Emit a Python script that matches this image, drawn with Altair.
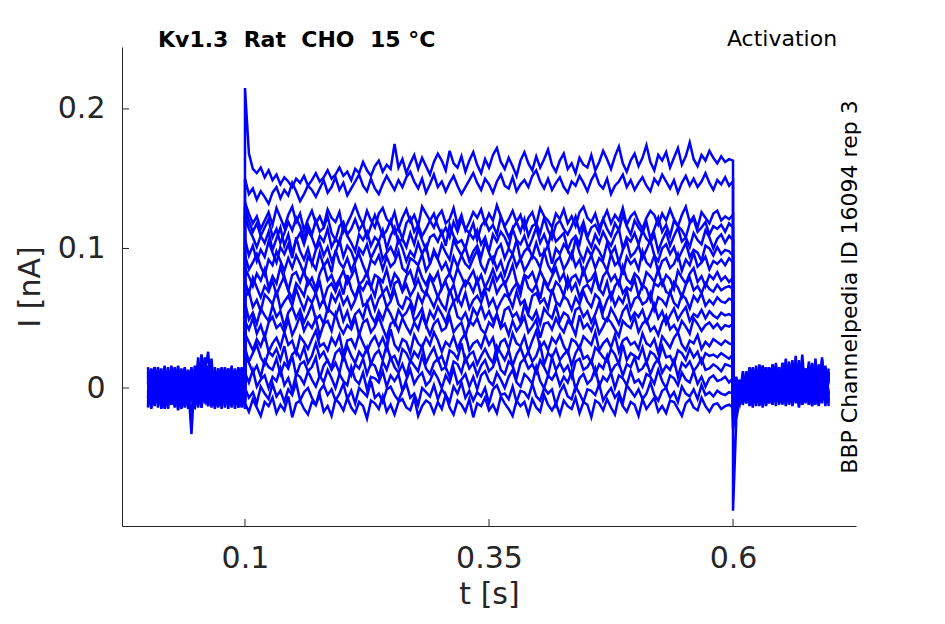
import altair as alt
import numpy as np
import pandas as pd

# ---- values in thousandths of nA ----
# steady current level of each trace during the 0.1-0.6 s step
STEP_LEVEL = [160, 145, 121, 114, 106, 97, 89, 78, 71, 62, 52, 44, 32, 23, 15, 6, -4, -13]

# deviation of each trace from its level during the step
STEP_DEV = [
    [55,8,-3,-6,-2,-9,-4,-11,-7,-14,-9,-12,-16,-10,-13,-8,-15,-11,-6,-12,-9,-4,-10,-7,-2,-8,-5,-11,-3,-6,2,-4,-8,-1,3,-5,0,-3,15,-2,4,-6,1,7,-3,5,-1,-7,2,8,3,-4,10,1,-2,6,-5,3,9,0,-6,4,-2,7,12,2,-3,5,-1,-8,3,9,1,-4,6,-2,4,11,0,-5,3,8,-3,1,-6,5,0,-2,7,-4,2,10,4,-3,6,13,1,-5,3,8,-1,5,14,2,-4,7,3,9,-2,5,12,0,6,16,4,-1,7,3,10,5,1,6,2,4,3],
    [5,-6,-2,-10,-4,-8,-13,-5,-1,-9,-3,-7,2,-4,-11,-6,0,-3,-8,-2,4,-5,-1,6,-3,2,-7,-2,3,8,0,-4,5,-2,-6,1,7,2,-3,4,-1,6,10,3,-2,5,-5,1,8,-1,3,-4,2,7,0,-6,-1,4,9,2,-3,5,1,-5,3,8,0,-2,6,-4,1,4,-1,7,11,3,-2,5,-3,2,6,-1,-5,3,0,7,2,-4,4,9,1,-2,5,-6,0,3,8,-1,4,-3,2,6,0,-4,5,1,8,3,-2,4,-5,2,7,0,5,-1,3,9,2,-3,4,1,6,0,3],
    [12,4,-3,2,-7,-1,5,-4,8,1,-6,3,9,-2,4,-8,0,6,-3,2,-5,7,1,-2,5,-9,-3,3,10,2,-4,6,-1,-6,4,8,0,-3,5,-7,1,7,-2,3,-5,9,4,-1,-6,2,6,-3,0,8,-4,3,-8,-2,5,1,7,-3,4,-1,10,2,-5,0,6,-2,3,-7,1,5,-4,8,2,-1,-6,4,0,7,-3,2,-5,5,9,1,-2,4,-6,0,6,-3,3,-1,8,-4,2,5,-2,-7,1,6,3,-4,4,-1,7,0,-5,3,9,-2,2,-6,5,1,-3,4,6,-1,2,0,3],
    [15,6,-2,4,-5,1,7,-6,0,-10,-3,5,-1,8,2,-7,3,-4,6,-2,1,9,-3,-8,2,5,-4,0,7,-1,4,-6,2,10,3,-5,-1,6,-3,1,-7,4,8,-2,3,-5,0,6,11,2,-4,1,-6,5,-2,7,0,-3,4,-8,2,6,-1,3,-4,9,1,-6,0,5,-2,7,-5,2,4,-3,8,-1,-7,3,6,0,-4,2,9,-2,5,-6,1,3,-3,7,0,-5,4,-1,10,2,-4,6,1,-3,5,-7,0,8,-2,3,-5,6,2,-1,-6,4,7,-2,1,5,-4,2,0,3,-2,4,1],
    [18,8,2,-5,3,-2,6,-7,1,9,-4,4,-9,0,5,-3,7,2,-6,3,-1,8,-5,1,-3,10,3,-2,-8,4,0,6,-4,2,-1,7,-6,3,9,-2,1,-5,5,-3,8,0,-7,2,4,-1,6,-4,11,3,-2,0,-6,5,1,7,-3,2,-8,4,-1,6,2,-5,8,0,-3,3,-6,1,9,-2,4,-4,7,-1,2,5,-7,0,3,-3,10,1,-5,4,-2,6,0,-4,3,8,-6,2,-1,5,-3,7,1,-2,4,-8,0,6,-4,3,9,-1,2,-5,5,0,-3,7,2,-6,1,4,-2,3,0],
    [10,-2,5,-6,2,-3,8,0,-7,4,-1,6,-4,11,1,-5,3,-8,2,7,-2,4,-6,0,9,-3,5,1,-7,3,-1,6,-4,2,8,-5,0,4,-2,10,3,-6,1,-3,7,-1,5,-8,2,-4,6,0,-5,9,3,-2,4,-6,1,5,-3,8,0,-7,2,6,-4,3,-1,9,-5,1,4,-3,7,-2,0,5,-8,3,-1,6,2,-4,10,0,-6,3,-2,5,1,-5,7,-1,4,-7,2,8,-3,0,5,-4,2,9,-2,-6,3,6,-1,4,-5,1,7,-3,2,0,-6,5,3,-2,4,-1,2,1,-2],
    [6,-4,1,7,-2,-8,3,-1,9,2,-5,4,-3,6,0,-7,5,1,-4,8,-2,3,-6,10,1,-3,4,-5,2,7,-1,-8,3,0,6,-4,5,-2,1,9,-3,-6,4,2,-1,7,-5,0,8,3,-4,1,-7,5,-2,6,0,-3,4,10,-1,-6,3,5,-4,2,-8,1,7,-2,4,-5,0,6,3,-3,9,-1,-6,2,5,-4,1,8,-2,3,-7,0,6,-3,4,1,-5,7,-1,2,-8,5,0,3,-4,9,1,-2,6,-6,2,4,-3,0,7,-5,3,-1,8,-2,1,5,-4,2,0,3,-1,4,1],
    [8,2,-5,4,-1,7,-6,2,-3,9,0,-8,3,5,-2,6,-4,1,-7,4,10,-1,3,-5,0,6,-3,2,8,-4,-1,5,-6,3,1,-2,7,-5,4,0,-8,2,6,-3,9,1,-4,3,-1,5,-7,0,4,-2,8,2,-5,1,6,-3,3,-6,0,7,-1,4,-4,2,10,-2,-7,3,1,5,-3,6,0,-5,2,8,-1,4,-6,1,3,-3,7,-2,0,5,-8,2,6,-1,3,-4,9,0,-3,4,1,-6,5,2,-2,7,-4,3,0,-7,6,1,-3,4,8,-2,2,-5,3,0,5,-1,2,-2,1],
    [5,-3,8,1,-6,2,-2,6,-4,3,9,-1,-7,4,0,-5,7,2,-3,5,-8,1,4,-2,6,-4,10,0,-6,3,-1,5,2,-5,8,-3,1,-7,4,6,-2,3,-5,0,7,-1,-4,9,2,-6,1,5,-3,3,-8,0,6,4,-2,7,-5,1,-1,8,-3,2,5,-6,0,4,-4,10,1,-2,3,-7,6,0,-3,5,2,-5,8,-1,4,-6,1,3,-2,9,0,-4,5,-7,2,6,-3,1,-1,7,-5,3,0,-8,4,2,6,-2,-4,5,1,-6,3,8,-1,2,-3,4,0,-2,3,-1,1,2,0],
    [3,7,-4,1,-7,5,2,-2,8,-5,0,4,-3,9,1,-6,3,-1,6,-4,2,-8,5,0,7,-2,3,-5,1,10,-3,-1,4,-6,2,6,-4,0,8,-2,-5,3,1,-7,5,-1,7,2,-4,4,-2,-6,9,0,3,-3,6,-5,1,4,-1,8,-3,2,-6,0,5,3,-4,7,-2,1,-8,4,6,-1,2,-5,9,0,-3,4,1,-6,3,-2,7,0,-4,5,2,-7,1,6,-3,3,-1,8,-5,2,4,-2,0,6,-6,3,1,-3,7,-1,-4,5,2,-5,4,0,6,-3,1,-2,3,0,-1,2,1],
    [9,-3,2,-6,5,0,-4,7,-1,3,-8,2,6,-2,4,-5,1,8,-3,0,-6,5,2,-1,7,-4,3,-7,1,4,-2,9,0,-5,3,-3,6,1,-6,4,-1,2,8,-4,0,5,-7,3,-2,6,1,-5,4,10,-1,-3,2,-6,5,0,7,-2,3,-4,1,-8,4,6,-1,2,-5,8,0,-3,3,-6,5,1,-2,7,-4,2,0,-7,4,6,-1,3,-5,1,9,-2,-4,5,0,-6,3,7,-3,2,-1,4,-5,1,8,-2,3,-6,0,5,-3,2,6,-4,1,-1,4,-2,3,0,-2,2,0,1,-1],
    [4,-2,6,-5,1,-8,3,7,-1,2,-4,5,-6,0,8,-3,3,-1,6,-7,2,4,-3,9,0,-5,1,-2,6,-6,3,5,-4,0,7,-1,-8,2,4,-3,6,0,-5,3,-2,8,1,-6,2,5,-3,-1,7,-4,0,3,-7,4,1,6,-2,-5,3,0,9,-1,2,-6,4,-3,1,7,-4,0,5,-8,2,3,-2,6,0,-4,4,1,-6,8,-1,2,-3,5,-5,0,6,3,-2,-7,4,1,-1,7,-4,2,5,-3,0,-6,3,8,-2,1,-4,4,0,-5,6,2,-3,1,3,-1,2,-2,1,0,2],
    [7,1,-5,3,-2,6,-6,0,4,-3,8,-1,2,-7,5,1,-4,3,9,-2,0,-5,4,-1,6,-8,2,3,-3,7,0,-6,1,5,-2,4,-4,10,-1,-5,3,1,-7,6,0,-3,4,-1,8,2,-6,1,-2,5,-4,3,7,-5,0,2,-3,6,-1,4,-8,1,3,-4,7,0,-2,5,-6,2,9,-3,1,-5,4,0,6,-2,-7,3,1,-4,5,2,-1,8,-5,0,3,-3,6,-6,2,4,-1,1,-4,7,0,-2,3,-7,5,1,-3,4,8,-1,-5,2,0,6,-4,1,-2,3,1,-1,2,0,-1],
    [6,-4,2,8,-1,-6,3,0,5,-3,7,-7,1,4,-2,6,-5,0,9,-1,3,-4,-8,2,5,-2,7,0,-5,3,-1,6,-6,1,4,-3,8,-2,0,-7,5,2,-4,3,-1,7,-5,1,6,-3,0,-8,4,2,-2,9,-4,1,3,-6,0,5,-1,-5,7,2,-3,4,-7,1,6,-2,3,-4,0,8,-6,2,-1,5,-3,1,4,-7,2,7,-2,0,-5,6,3,-1,-4,5,1,-6,8,-3,2,0,-2,6,-5,3,1,-4,7,-1,0,-6,4,2,-3,5,-1,3,-5,2,0,1,-1,2,0,-2,1],
    [8,3,-4,1,-7,5,0,-2,6,-5,3,-1,8,-6,2,4,-3,0,7,-8,1,5,-2,3,-4,9,0,-6,2,-1,6,-5,3,1,-7,4,-2,7,0,-4,2,-6,5,1,-3,8,-1,-5,3,6,-2,0,-7,4,2,-4,7,-1,3,-6,1,5,-3,0,8,-2,-5,4,1,-8,3,6,-1,2,-4,5,0,-6,7,-2,3,-3,1,-7,4,6,-2,0,5,-5,2,-1,8,-4,1,3,-6,2,0,7,-3,-1,4,-5,2,6,-4,1,-2,5,-7,3,0,4,-3,1,6,-2,-1,2,0,-3,2,1,0],
    [5,-2,7,-5,0,3,-6,2,-1,8,-4,1,-8,4,2,-3,6,0,-5,3,-2,7,1,-6,4,-1,-4,9,0,-3,5,-7,2,1,-2,6,-5,3,-1,4,-8,0,7,-3,2,5,-4,-1,6,1,-6,3,-2,8,-3,0,4,-5,2,-7,3,6,-1,-4,5,0,-6,2,7,-2,-5,4,1,-3,9,-1,-6,3,0,5,-4,2,-2,6,-7,1,4,-3,0,8,-5,2,-1,5,-6,3,1,-4,6,-2,0,-5,4,2,-3,7,-1,-6,3,1,-4,5,0,-2,6,-3,2,-5,1,3,-1,0,2,-2,1],
    [4,-3,1,-7,5,0,-4,7,-2,2,-6,3,-1,8,-5,1,4,-3,-8,2,6,-1,3,-5,0,7,-4,2,-7,4,1,-2,9,-3,0,-6,3,5,-1,-5,2,7,-3,0,-8,4,1,-2,6,-4,3,-1,-6,5,0,8,-3,2,-5,1,-2,4,-7,3,6,-1,0,-4,5,-6,2,1,-3,7,-2,-5,4,0,3,-8,1,6,-2,-4,5,0,-6,3,2,-1,7,-5,0,4,-3,1,-7,6,2,-2,3,-4,0,8,-1,-5,2,4,-3,1,-6,5,0,-2,3,-4,6,-1,1,-2,2,0,-1,1,0],
    [2,-4,5,-1,-7,3,0,6,-5,1,-3,7,-8,2,4,-2,-6,3,1,8,-4,0,-7,5,2,-3,6,-1,-5,3,0,-9,4,2,-2,7,-4,1,-6,3,5,-1,-3,6,-7,0,4,2,-5,3,-2,8,-1,-6,4,1,-4,5,-8,2,0,6,-3,1,-5,7,2,-2,-7,4,0,3,-6,5,-1,-4,8,1,-3,2,-6,4,0,-2,6,-5,3,1,-8,4,2,-3,5,-1,-6,7,0,-4,3,1,-7,5,-2,2,6,-4,0,-5,4,3,-2,-7,2,5,-1,-3,6,0,-4,1,2,-2,0,1,-1],
]

# holding current before the step (0-0.1 s)
BASE = [
    [5,-12,14,-8,11,-15,9,-4,13,-10,6,-13,12,3,-7,22,-9,15,-6,10,-14,8,-11,13,-5,9,-12,14,-8,4],
    [-10,13,-6,15,-11,4,-14,12,-3,16,-9,11,-15,-2,10,-8,24,-4,12,-13,7,-10,15,-6,11,-14,9,-3,13,-9],
    [12,-7,9,-14,6,-10,15,-5,11,-12,14,-8,3,-33,8,-12,11,19,-7,13,-9,14,-12,6,-15,10,-5,12,-11,7],
    [-14,8,-11,13,-4,16,-9,7,-13,10,-6,14,-11,5,-9,13,-6,12,26,-8,11,-13,4,-9,14,-7,12,-14,8,-10],
    [9,-15,12,-3,14,-8,10,-12,5,-16,12,-4,10,-8,-13,9,-10,14,-5,21,-11,9,-6,13,-10,15,-8,5,-13,11],
    [-6,11,-13,7,-9,14,-2,-12,15,-7,9,-14,13,2,-11,14,-3,20,-13,6,-8,13,-15,10,-4,8,-12,14,-6,9],
    [15,-4,-10,12,-13,9,-6,13,-9,4,-14,10,-7,-18,6,-10,24,-8,7,-14,10,-3,12,-9,14,-13,6,-8,15,-11],
    [-12,7,15,-9,4,-13,11,-7,14,-2,-15,8,-10,6,-4,12,-14,9,-2,13,-10,5,-12,11,-8,12,-5,-14,10,-3],
    [7,-9,13,-5,10,-14,3,12,-8,15,-11,6,-9,4,-12,18,-6,-10,15,-4,11,-9,14,-11,4,-13,12,-6,9,-15],
    [-3,14,-7,9,-15,6,-9,14,-11,8,-5,-13,11,-7,16,-12,5,-7,14,-11,3,-14,12,-5,10,-8,14,-2,-12,7],
    [11,-13,5,12,-6,15,-10,7,-12,13,-3,10,-14,6,-8,11,-3,21,-9,6,-13,14,-7,9,-12,3,-9,15,-5,12],
    [-8,3,-12,10,-14,8,-5,16,-10,2,-8,15,-12,-1,11,-9,13,-5,-13,12,-7,11,-2,14,-9,7,-15,10,-4,14],
    [14,-6,9,-11,3,-9,12,-4,10,-13,7,-6,13,-9,4,-14,10,-8,16,-6,-12,7,-10,15,-3,12,-10,6,-13,5],
    [-4,12,-9,5,-12,13,-7,10,-14,9,-2,14,-10,8,-15,6,-11,22,-5,10,-15,4,-7,13,-9,16,-6,-11,13,-8],
    [4,-14,8,-6,11,-3,-11,15,-6,12,-10,5,-13,2,-10,15,-5,9,-10,14,-2,-9,11,-14,8,-6,13,-12,5,-9],
    [-13,9,-5,14,-3,10,-15,7,12,-8,-12,13,-4,7,-6,10,-12,4,10,-9,15,-5,8,-13,11,-4,9,-10,14,-2],
    [8,-4,15,-10,6,-12,5,-8,14,-15,9,-7,12,-6,-11,7,-14,13,-8,16,-4,-13,10,-6,13,-11,5,-8,11,-14],
    [-7,13,-3,9,-14,5,11,-9,-5,10,-13,3,-10,15,-7,16,-14,6,-9,11,-6,12,-12,6,-3,14,-10,8,-14,6],
]

# current after the step (0.6-0.7 s)
TAIL = [
    [-5,3,-9,8,-2,14,-7,11,-10,16,-4,9,-12,13,-3,18,-8,10,-11,15,-6,12,-9,19,-2,8,-13,14,-5,10],
    [-12,-3,6,-11,12,-6,15,-9,7,-13,11,-2,17,-8,9,-12,14,-4,10,-10,16,-7,13,-12,8,-3,15,-9,11,-6],
    [-20,-9,2,-6,10,-12,8,-4,17,-9,13,-11,5,-7,15,-10,12,-3,20,-8,6,-12,14,-5,11,-9,17,-4,9,-11],
    [-8,4,-12,6,-5,13,-3,16,-10,9,-6,14,-12,11,-2,18,-9,7,-13,12,-4,15,-8,10,-11,21,-6,13,-10,7],
    [-25,-14,-2,-9,5,-6,14,-11,10,-3,15,-8,12,-13,7,-5,16,-10,11,-7,14,-12,9,-2,17,-9,6,-11,13,-4],
    [-3,6,-8,2,-11,12,-5,9,-13,16,-7,11,-4,13,-10,8,-2,19,-9,12,-13,7,-6,15,-11,10,-3,22,-8,12],
    [-15,-5,4,-10,8,-2,11,-12,14,-6,9,-9,17,-4,12,-11,7,-3,15,-8,13,-12,10,-5,18,-10,8,-6,14,-9],
    [-30,-8,-3,-12,6,-7,13,-4,10,-14,15,-6,8,-10,12,-2,16,-11,9,-7,20,-5,11,-12,7,-9,14,-4,10,-13],
    [-10,1,-7,9,-4,15,-9,6,-12,13,-3,10,-8,18,-11,7,-5,14,-10,11,-2,16,-7,9,-13,12,-6,15,-9,8],
    [-88,-22,-9,3,-6,11,-10,8,-3,14,-12,9,-5,16,-8,12,-13,6,-4,23,-9,10,-11,15,-6,8,-10,13,-3,11],
    [-6,5,-11,3,-4,14,-8,10,-2,12,-13,8,-6,15,-9,11,-3,17,-12,7,-5,13,-10,16,-7,9,-12,11,-4,14],
    [-22,-11,-1,-8,7,-13,10,-5,16,-9,4,-11,12,-6,9,-3,15,-12,8,-7,18,-10,6,-4,13,-11,10,-8,16,-5],
    [-2,8,-5,12,-9,4,-14,9,-7,15,-3,10,-11,13,-6,17,-9,5,-12,11,-3,24,-7,9,-10,14,-5,12,-13,8],
    [-18,-7,-12,2,-9,11,-4,13,-10,6,-2,15,-8,9,-12,14,-5,11,-9,7,-14,12,-3,17,-8,10,-11,13,-6,9],
    [-9,2,-6,10,-11,7,-3,14,-8,11,-12,5,-4,16,-10,9,-7,13,-2,18,-11,6,-9,12,-5,15,-12,8,-3,11],
    [-28,-16,-5,-10,4,-8,12,-13,9,-4,15,-7,11,-10,6,-2,21,-8,13,-11,10,-5,14,-9,8,-12,16,-6,10,-8],
    [-4,7,-9,5,-3,12,-10,8,-6,13,-2,10,-12,14,-7,9,-4,17,-10,11,-8,15,-3,8,-13,12,-6,20,-9,7],
    [-14,-4,-11,6,-8,3,-13,11,-5,9,-10,14,-3,12,-8,16,-12,7,-6,13,-9,10,-4,15,-11,8,-7,12,-10,6],
]

T_START, T_ON, T_OFF, T_END = 0.0006, 0.1, 0.6, 0.698
X_TICKS = [0.1, 0.35, 0.6]
Y_TICKS = [0.0, 0.1, 0.2]
X_DOMAIN = [-0.026, 0.726]
Y_DOMAIN = [-0.0989, 0.2444]

NB = "\u00a0"
TITLE = f"Kv1.3{NB}{NB}Rat{NB}{NB}CHO{NB}{NB}15 °C"
PROTOCOL = "Activation"
SOURCE = "BBP Channelpedia ID 16094 rep 3"

rows = []
for k in range(len(STEP_DEV)):
    step_vals = [STEP_LEVEL[k] + d for d in STEP_DEV[k]]
    segs = [
        (np.linspace(T_START, T_ON, len(BASE[k])), BASE[k]),
        (np.linspace(T_ON, T_OFF, len(step_vals)), step_vals),
        (np.linspace(T_OFF, T_END, len(TAIL[k])), TAIL[k]),
    ]
    idx = 0
    for ts, vs in segs:
        for t, v in zip(ts, vs):
            rows.append({"t": float(t), "v": v / 1000.0, "trace": k, "i": idx})
            idx += 1
df = pd.DataFrame(rows)

FONT = "DejaVu Sans"
DARK = "#262626"
W, H = 734, 479

xscale = alt.Scale(domain=X_DOMAIN, nice=False, zero=False)
yscale = alt.Scale(domain=Y_DOMAIN, nice=False, zero=False)

lines = alt.Chart(df).mark_line(color="#0000ff", strokeWidth=2.5).encode(
    x=alt.X("t:Q", scale=xscale,
            axis=alt.Axis(values=X_TICKS, format=".2~f", title="t [s]",
                          tickSize=0, labelPadding=17, titlePadding=6)),
    y=alt.Y("v:Q", scale=yscale,
            axis=alt.Axis(values=Y_TICKS, format=".1~f", title="I [nA]",
                          tickSize=0, labelPadding=17, titlePadding=12)),
    detail="trace:N",
    order="i:Q",
)

ytick = alt.Chart(pd.DataFrame({"v": Y_TICKS})).mark_rule(color=DARK, strokeWidth=1).encode(
    y=alt.Y("v:Q", scale=yscale), x=alt.value(0), x2=alt.value(7))
xtick = alt.Chart(pd.DataFrame({"t": X_TICKS})).mark_rule(color=DARK, strokeWidth=1).encode(
    x=alt.X("t:Q", scale=xscale), y=alt.value(H), y2=alt.value(H - 7))

title_txt = alt.Chart(pd.DataFrame({"s": [TITLE]})).mark_text(
    font=FONT, fontSize=22, fontWeight="bold", align="left", baseline="middle", color="black"
).encode(text="s:N", x=alt.value(36), y=alt.value(-7))

proto_txt = alt.Chart(pd.DataFrame({"s": [PROTOCOL]})).mark_text(
    font=FONT, fontSize=22, align="center", baseline="middle", color="black"
).encode(text="s:N", x=alt.value(660), y=alt.value(-8))

src_txt = alt.Chart(pd.DataFrame({"s": [SOURCE]})).mark_text(
    font=FONT, fontSize=22, align="center", baseline="middle", angle=270, color="black"
).encode(text="s:N", x=alt.value(728), y=alt.value(240))

chart = alt.layer(lines, ytick, xtick, title_txt, proto_txt, src_txt).properties(
    width=W, height=H,
    autosize=alt.AutoSizeParams(type="none"),
    padding={"left": 114, "top": 39, "right": 81, "bottom": 90},
).configure_view(stroke=None).configure_axis(
    grid=False, domainColor=DARK, domainWidth=1,
    labelFont=FONT, labelFontSize=30, labelColor=DARK,
    titleFont=FONT, titleFontSize=30, titleColor=DARK, titleFontWeight="normal",
)

chart.save("out.html", embed_options={"renderer": "svg", "actions": False})
